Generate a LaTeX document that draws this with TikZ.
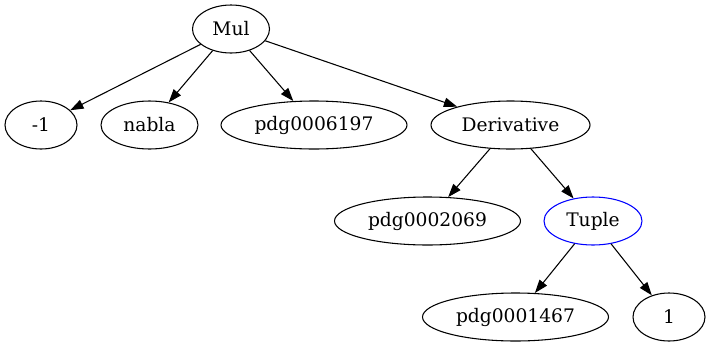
\documentclass[tikz,border=0pt]{standalone}
\usepackage{fontspec}
\setmainfont{DejaVu Serif}
\usetikzlibrary{shapes.geometric,arrows.meta}
\begin{document}
\begin{tikzpicture}[x=0.75pt, y=-0.75pt, >={Triangle[length=10pt,width=7pt]},
  nd/.style={draw, ellipse, line width=0.8pt, inner sep=0pt, minimum height=36pt,
    font=\fontsize{14}{16}\selectfont},
  ed/.style={->, line width=0.8pt}]
  \useasboundingbox (0,0) rectangle (711,347);
  % 節点
  \node[nd, minimum width=57.75pt] (mul) at (231,29) {Mul};
  \node[nd, minimum width=54pt] (neg) at (41,125) {-1};
  \node[nd, minimum width=72.75pt] (nabla) at (149.5,125) {nabla};
  \node[nd, minimum width=139.5pt] (pdga) at (314,125) {pdg0006197};
  \node[nd, minimum width=119.25pt] (deriv) at (510.5,125) {Derivative};
  \node[nd, minimum width=139.5pt] (pdgb) at (427.5,221) {pdg0002069};
  \node[nd, draw=blue, minimum width=73.5pt] (tuple) at (593,221) {Tuple};
  \node[nd, minimum width=139.5pt] (pdgc) at (515.5,317) {pdg0001467};
  \node[nd, minimum width=54pt] (one) at (669,317) {1};
  % 枝
  \draw[ed] (mul) -- (neg);
  \draw[ed] (mul) -- (nabla);
  \draw[ed] (mul) -- (pdga);
  \draw[ed] (mul) -- (deriv);
  \draw[ed] (deriv) -- (pdgb);
  \draw[ed] (deriv) -- (tuple);
  \draw[ed] (tuple) -- (pdgc);
  \draw[ed] (tuple) -- (one);
\end{tikzpicture}
\end{document}
